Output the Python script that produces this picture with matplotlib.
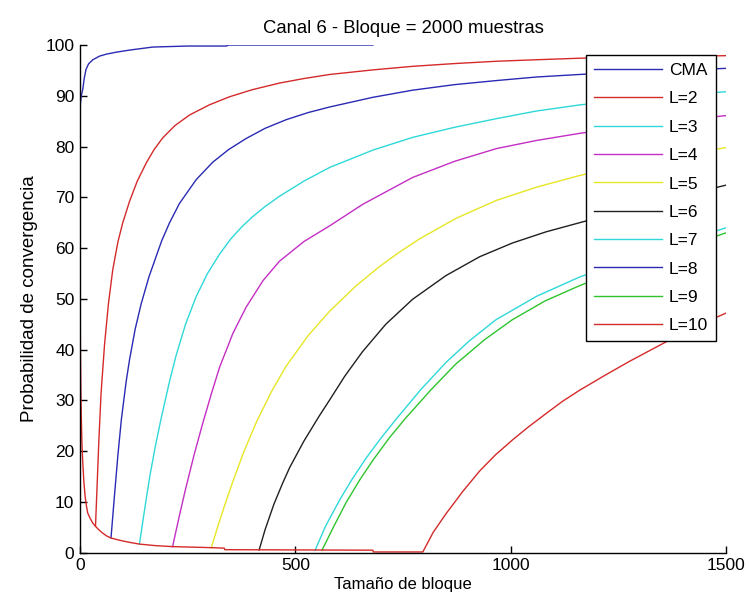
import matplotlib
matplotlib.use("Agg")
import matplotlib.pyplot as plt

# ---------------- data ----------------
labels = ["CMA", "L=2", "L=3", "L=4", "L=5", "L=6", "L=7", "L=8", "L=9", "L=10"]
colors = ["#2a2ab4", "#d42a2a", "#2ed8d8", "#c42ec4", "#e6e626", "#202020",
          "#2ed8d8", "#2a2ab4", "#2ec42e", "#d42a2a"]

cma_x = [0, 0, 1, 3, 6.5, 10, 14, 20, 30, 45, 61, 85, 115, 169, 250, 340, 345, 680]
cma_y = [77.5, 86.7, 88.5, 90, 91.3, 93.5, 95.2, 96.3, 97.1, 97.8, 98.2, 98.6, 99.0, 99.6, 99.8, 99.8, 100, 100]

# shared lower (decreasing) branch, drawn as part of L=10
low_x = [0, 0.5, 1, 2, 3, 4.5, 6.5, 9, 12, 15, 18, 24, 30, 36, 44, 52, 62, 72, 85, 100,
         118, 138, 175, 215, 260, 305, 335, 336, 500, 680, 681, 796]
low_y = [67, 50, 40, 32, 27, 21.5, 17.7, 14, 11, 9.2, 7.8, 6.7, 5.8, 5.2, 4.5, 3.9, 3.3, 2.9, 2.6, 2.3,
         2.0, 1.7, 1.4, 1.2, 1.1, 1.0, 0.9, 0.6, 0.55, 0.5, 0.15, 0.15]

l2_x = [36, 40, 44, 49, 57, 66, 76, 88, 99, 115, 133, 154, 172, 192, 220, 254, 300, 347, 400,
        463, 520, 580, 680, 772, 870, 967, 1060, 1160, 1330, 1500]
l2_y = [5.2, 13.8, 22.5, 31.5, 41, 49, 55.7, 61.2, 64.9, 69.2, 73.2, 76.8, 79.4, 81.7, 84.1, 86.2, 88.2,
        89.8, 91.2, 92.5, 93.4, 94.2, 95.1, 95.8, 96.35, 96.8, 97.1, 97.4, 97.7, 97.9]

l3_x = [138, 150, 162, 175, 188, 208, 223, 245, 270, 296, 324, 350, 377, 401, 430, 463, 520,
        580, 680, 772, 870, 967, 1060, 1160, 1330, 1500]
l3_y = [1.7, 8.5, 15, 21, 26.3, 33.8, 38.8, 45, 50.5, 55, 58.8, 61.8, 64.3, 66.2, 68.2, 70.2, 73.2,
        75.9, 79.3, 81.8, 83.8, 85.5, 87, 88.2, 89.8, 90.8]

l4_x = [215, 230, 245, 265, 285, 305, 324, 355, 386, 425, 463, 520, 580, 656, 772, 870, 967,
        1060, 1160, 1330, 1500]
l4_y = [1.2, 7, 12.5, 19.3, 25.5, 31.3, 36.5, 43.2, 48.4, 53.6, 57.4, 61.3, 64.4, 68.6, 73.9, 77.1,
        79.6, 81.2, 82.6, 84.6, 86.1]

l5_x = [305, 320, 337, 354, 380, 410, 445, 479, 530, 580, 640, 696, 740, 788, 874, 967, 1060,
        1160, 1330, 1500]
l5_y = [1.0, 5.2, 9.6, 13.8, 19.8, 25.8, 31.8, 36.8, 42.8, 47.6, 52.5, 56.4, 59.1, 61.8, 65.9, 69.4,
        72, 74.3, 77.3, 79.8]

l6_x = [416, 430, 450, 470, 487, 520, 556, 579, 615, 656, 710, 772, 850, 928, 1004, 1082, 1160,
        1330, 1500]
l6_y = [0.55, 4.6, 9.5, 13.6, 16.8, 22, 27, 30, 34.8, 39.6, 45.0, 49.9, 54.6, 58.3, 61, 63.2, 65,
        68.9, 72.4]

l7_x = [546, 570, 603, 632, 664, 700, 734, 790, 850, 905, 966, 1060, 1160, 1330, 1500]
l7_y = [0.5, 5.2, 10.4, 14.5, 18.6, 22.7, 26.3, 32, 37.5, 41.8, 45.9, 50.5, 54.3, 59.4, 64.0]

l8_x = [72, 80, 88, 96, 107, 115, 128, 142, 160, 177, 190, 208, 231, 270, 308, 345, 386, 430,
        479, 530, 580, 680, 772, 870, 967, 1060, 1160, 1330, 1500]
l8_y = [2.9, 11.2, 19.2, 26.2, 33.6, 38, 44, 49, 54.3, 58.4, 61.5, 65, 68.8, 73.5, 76.9, 79.4, 81.6,
        83.6, 85.3, 86.7, 87.8, 89.7, 91.1, 92.2, 93.0, 93.7, 94.2, 94.9, 95.4]

l9_x = [562, 590, 618, 650, 680, 718, 755, 815, 873, 940, 1004, 1080, 1160, 1330, 1500]
l9_y = [0.5, 5.3, 9.9, 14.4, 18.2, 22.6, 26.4, 32.1, 37.2, 42, 45.9, 49.6, 52.6, 58.2, 63.0]

l10_x = [796, 820, 850, 890, 928, 965, 1004, 1040, 1082, 1120, 1160, 1220, 1276, 1369, 1430, 1500]
l10_y = [0.15, 4.0, 7.7, 12.2, 16.1, 19.3, 22.2, 24.7, 27.4, 29.8, 32.0, 35.0, 37.7, 41.9, 44.6, 47.2]

xticks = [0, 500, 1000, 1500]
yticks = list(range(0, 101, 10))

title = "Canal 6 - Bloque = 2000 muestras"
xlabel = "Tamaño de bloque"
ylabel = "Probabilidad de convergencia"

# ---------------- plot ----------------
plt.rcParams["font.family"] = ["Liberation Sans", "DejaVu Sans"]

fig = plt.figure(figsize=(7.49, 6.10), dpi=100)
ax = fig.add_axes([0.1068, 0.0939, 0.8625, 0.8323])

series = [
    (cma_x, cma_y),
    (l2_x, l2_y),
    (l3_x, l3_y),
    (l4_x, l4_y),
    (l5_x, l5_y),
    (l6_x, l6_y),
    (l7_x, l7_y),
    (l8_x, l8_y),
    (l9_x, l9_y),
    (low_x + l10_x, low_y + l10_y),
]

for (xs, ys), lab, col in zip(series, labels, colors):
    ax.plot(xs, ys, color=col, lw=1.0, label=lab)

ax.set_xlim(0, 1500)
ax.set_ylim(0, 100)
ax.set_xticks(xticks)
ax.set_yticks(yticks)
for s in ["top", "right"]:
    ax.spines[s].set_visible(False)
for s in ["left", "bottom"]:
    ax.spines[s].set_linewidth(1.0)
ax.tick_params(direction="in", length=5, width=1, labelsize=12.5, pad=4)

ax.set_title(title, fontsize=13.3, pad=9)
ax.set_xlabel(xlabel, fontsize=12, labelpad=3)
ax.set_ylabel(ylabel, fontsize=13.5, labelpad=5)

leg = ax.legend(loc="upper right", bbox_to_anchor=(0.9845, 0.980), borderaxespad=0,
                fontsize=12.5, handlelength=3.9, labelspacing=0.76,
                fancybox=False, framealpha=1, edgecolor="black",
                borderpad=0.45, handletextpad=0.4)
leg.get_frame().set_linewidth(1.0)

fig.savefig("out.png", dpi=100)
